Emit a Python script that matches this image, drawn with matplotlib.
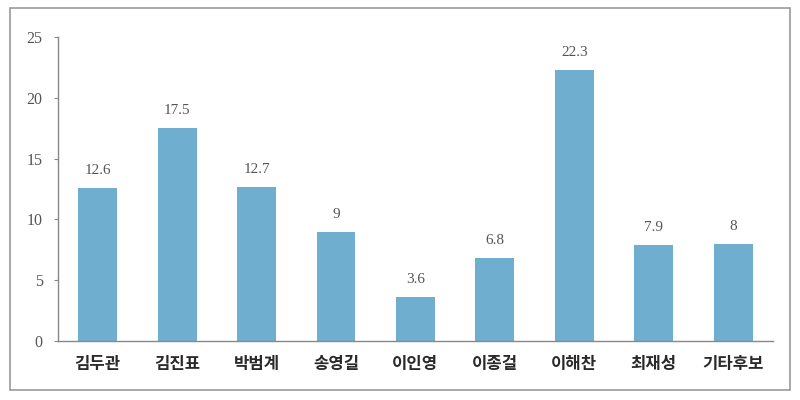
import matplotlib
matplotlib.use("Agg")
import matplotlib.pyplot as plt
from matplotlib.patches import Rectangle

categories = ["김두관", "김진표", "박범계", "송영길", "이인영", "이종걸", "이해찬", "최재성", "기타후보"]
values = [12.6, 17.5, 12.7, 9, 3.6, 6.8, 22.3, 7.9, 8]
value_labels = ["12.6", "17.5", "12.7", "9", "3.6", "6.8", "22.3", "7.9", "8"]
yticks = [0, 5, 10, 15, 20, 25]

fig = plt.figure(figsize=(8, 4), dpi=100)
ax = fig.add_axes([0.0725, 0.1475, 0.8935, 0.76])

x = list(range(len(categories)))
ax.bar(x, values, width=0.49, color="#70AECF", zorder=2)
ax.set_xlim(-0.5, len(categories) - 0.5)
ax.set_ylim(0, 25)

serif = ["Liberation Serif", "DejaVu Serif"]
for xi, v, lab in zip(x, values, value_labels):
    ax.text(xi, v + 0.9, lab, ha="center", va="bottom", fontsize=11,
            color="#555555", family=serif)

ax.set_yticks(yticks)
ax.set_yticklabels([str(t) for t in yticks], family=serif,
                   fontsize=11.5, color="#555555")
ax.set_xticks(x)
ax.set_xticklabels(categories, family=["Noto Sans CJK KR", "DejaVu Sans"],
                   fontsize=12, fontweight="bold", color="#2a2a2a")
ax.tick_params(axis="x", length=0, pad=10)
ax.tick_params(axis="y", length=3, width=0.8, color="#888888", pad=8, direction="out")

for s in ["top", "right"]:
    ax.spines[s].set_visible(False)
for s in ["left", "bottom"]:
    ax.spines[s].set_color("#888888")
    ax.spines[s].set_linewidth(1.0)

border = Rectangle((10 / 800, 10 / 400), 780 / 800, 382 / 400, transform=fig.transFigure,
                   fill=False, edgecolor="#999999", linewidth=1.2)
fig.patches.append(border)

fig.savefig("out.png", dpi=100)
